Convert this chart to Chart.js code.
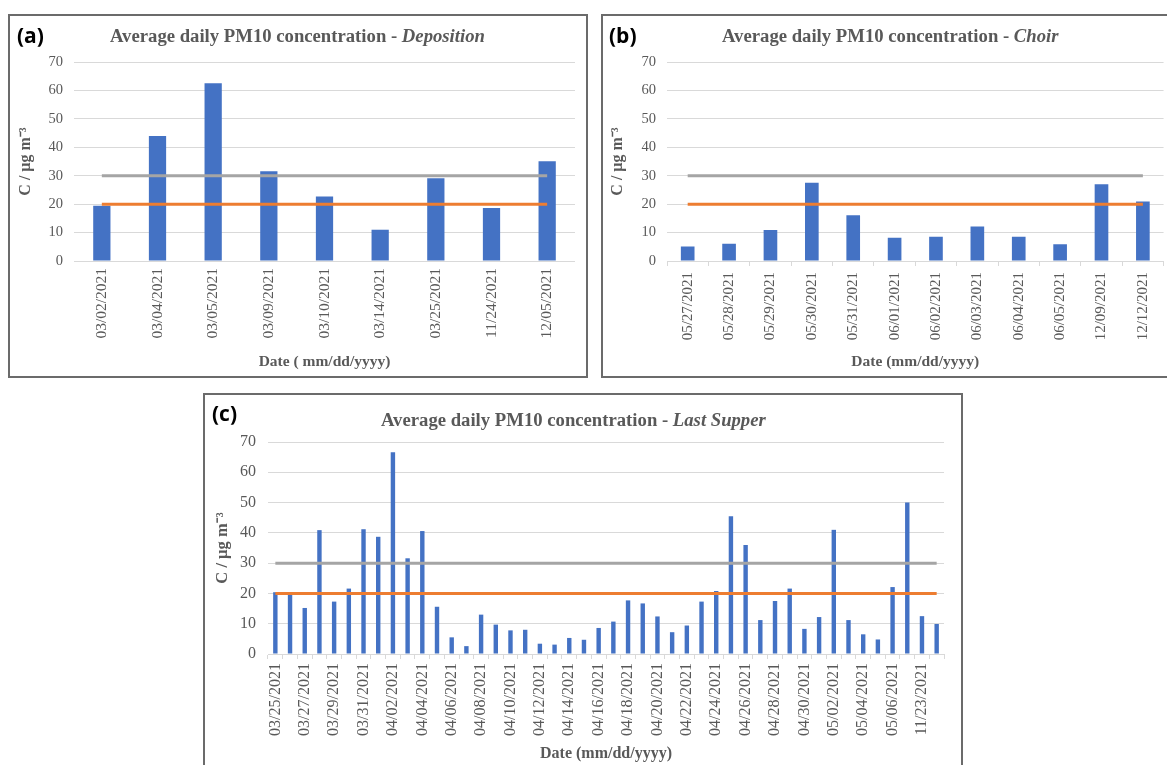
<!DOCTYPE html>
<html>
<head>
<meta charset="utf-8">
<script src="https://cdn.jsdelivr.net/npm/chart.js@4"></script>
<style>
  html, body { margin: 0; padding: 0; background: #ffffff; }
  body { width: 1167px; height: 765px; position: relative; overflow: hidden; }
  .panel { position: absolute; border: 2px solid #6b6b6b; box-sizing: border-box; background: #fff; }
  canvas { position: absolute; }
  .ttl { position: absolute; font-family: "Liberation Serif", serif; font-weight: bold; color: #595959; white-space: nowrap; line-height: 1; }
  .ttl i { font-style: italic; }
  .lbl { position: absolute; font-family: "Open Sans", sans-serif; font-weight: bold; color: #000; line-height: 1; white-space: nowrap; }
</style>
</head>
<body>
<div class="panel" style="left:8px;top:14px;width:580px;height:364px;"></div>
<div class="panel" style="left:601px;top:14px;width:580px;height:364px;"></div>
<div class="panel" style="left:203px;top:393px;width:760px;height:390px;"></div>

<canvas id="cA" width="575" height="359" style="left:10px;top:16px;width:575px;height:359px;"></canvas>
<canvas id="cB" width="564" height="359" style="left:603px;top:16px;width:564px;height:359px;"></canvas>
<canvas id="cC" width="755" height="370" style="left:205px;top:395px;width:755px;height:370px;"></canvas>

<div class="lbl" style="left:17px;top:25px;font-size:21px;">(a)</div>
<div class="lbl" style="left:609px;top:25px;font-size:21px;">(b)</div>
<div class="lbl" style="left:212px;top:403px;font-size:21px;">(c)</div>

<div class="ttl" style="left:110px;top:27px;font-size:18.7px;">Average daily PM10 concentration - <i>Deposition</i></div>
<div class="ttl" style="left:722px;top:27px;font-size:18.7px;">Average daily PM10 concentration - <i>Choir</i></div>
<div class="ttl" style="left:381px;top:411px;font-size:18.7px;">Average daily PM10 concentration - <i>Last Supper</i></div>

<script>
// ---------- data ----------
const depositionDates = ['03/02/2021','03/04/2021','03/05/2021','03/09/2021','03/10/2021','03/14/2021','03/25/2021','11/24/2021','12/05/2021'];
const depositionValues = [19.4, 44.0, 62.5, 31.6, 22.7, 11.0, 29.1, 18.6, 35.1];

const choirDates = ['05/27/2021','05/28/2021','05/29/2021','05/30/2021','05/31/2021','06/01/2021','06/02/2021','06/03/2021','06/04/2021','06/05/2021','12/09/2021','12/12/2021'];
const choirValues = [5.1, 6.1, 10.9, 27.5, 16.1, 8.2, 8.5, 12.1, 8.5, 5.9, 27.0, 20.9];

const supperDates = [
  '03/25/2021','03/26/2021','03/27/2021','03/28/2021','03/29/2021','03/30/2021','03/31/2021',
  '04/01/2021','04/02/2021','04/03/2021','04/04/2021','04/05/2021','04/06/2021','04/07/2021','04/08/2021',
  '04/09/2021','04/10/2021','04/11/2021','04/12/2021','04/13/2021','04/14/2021','04/15/2021','04/16/2021',
  '04/17/2021','04/18/2021','04/19/2021','04/20/2021','04/21/2021','04/22/2021','04/23/2021','04/24/2021',
  '04/25/2021','04/26/2021','04/27/2021','04/28/2021','04/29/2021','04/30/2021',
  '05/01/2021','05/02/2021','05/03/2021','05/04/2021','05/05/2021','05/06/2021','05/07/2021',
  '11/23/2021','11/24/2021'
];
const supperValues = [20.4, 19.6, 15.2, 40.9, 17.3, 21.6, 41.2, 38.7, 66.6, 31.6,
  40.6, 15.6, 5.5, 2.6, 13.0, 9.7, 7.8, 8.0, 3.4, 3.1,
  5.3, 4.7, 8.6, 10.7, 17.7, 16.7, 12.4, 7.2, 9.4, 17.3,
  20.8, 45.5, 36.0, 11.2, 17.5, 21.6, 8.3, 12.2, 41.0, 11.2,
  6.5, 4.8, 22.1, 50.0, 12.5, 9.9];

const limitHigh = 30;
const limitLow = 20;
const yTicks = [0, 10, 20, 30, 40, 50, 60, 70];

// ---------- styling ----------
const TXT = '#595959';
const GRID = '#d9d9d9';
const SERIF = '"Liberation Serif", serif';
Chart.defaults.font.family = SERIF;
Chart.defaults.color = TXT;

function makeChart(id, labels, values, o) {
  const ctx = document.getElementById(id);
  return new Chart(ctx, {
    data: {
      labels: labels,
      datasets: [
        { type: 'line', data: labels.map(() => limitHigh), borderColor: '#a5a5a5', borderWidth: 3,
          pointRadius: 0, fill: false, order: 0 },
        { type: 'line', data: labels.map(() => limitLow), borderColor: '#ed7d31', borderWidth: 3,
          pointRadius: 0, fill: false, order: 0 },
        { type: 'bar', data: values, backgroundColor: '#4472c4', borderWidth: 0,
          categoryPercentage: 1.0, barPercentage: o.barPct, order: 1 }
      ]
    },
    options: {
      responsive: false,
      animation: false,
      devicePixelRatio: 1,
      layout: { padding: { left: 0, top: o.padTop, right: o.padRight, bottom: 0 } },
      plugins: { legend: { display: false }, tooltip: { enabled: false }, title: { display: false } },
      scales: {
        x: {
          type: 'category',
          offset: true,
          afterFit: (s) => { s.height = o.xH; },
          grid: o.xTicks
            ? { display: true, drawOnChartArea: false, drawTicks: true, tickLength: 5, color: GRID, offset: true }
            : { display: false, drawTicks: false },
          border: o.xTicks ? { display: true, color: GRID, width: 1 } : { display: false },
          ticks: {
            autoSkip: false, minRotation: 90, maxRotation: 90, padding: o.xPad,
            color: TXT, font: { size: o.xTickSize },
            callback: function(v, i) { return (i % o.every === 0) ? this.getLabelForValue(v) : ''; }
          },
          title: { display: true, text: o.xTitle, color: TXT,
                   font: { size: o.axisTitleSize, weight: 'bold' }, padding: { top: 0, bottom: o.xTitlePad } }
        },
        y: {
          min: 0, max: 70,
          afterFit: (s) => { s.width = o.yW; },
          afterBuildTicks: (s) => { s.ticks = yTicks.map(v => ({ value: v })); },
          grid: { color: GRID, lineWidth: 1, drawTicks: false },
          border: { display: false },
          ticks: { padding: o.yPad, color: TXT, font: { size: o.tickSize } },
          title: { display: true, text: o.yTitle, color: TXT,
                   font: { size: o.axisTitleSize + 0.5, weight: 'bold', style: o.yItalic ? 'italic' : 'normal' },
                   padding: { top: o.yTitlePad, bottom: 0 } }
        }
      }
    }
  });
}

makeChart('cA', depositionDates, depositionValues, {
  barPct: 0.31, padTop: 46, padRight: 10, xH: 114, yW: 64, xTicks: false, xPad: 7,
  tickSize: 14.5, xTickSize: 15.5, axisTitleSize: 15.5, every: 1, xTitle: 'Date ( mm/dd/yyyy)', xTitlePad: 4,
  yTitle: 'C / µg m⁻³', yTitlePad: 6, yPad: 11, yItalic: false
});

makeChart('cB', choirDates, choirValues, {
  barPct: 0.33, padTop: 46, padRight: 3, xH: 114, yW: 64, xTicks: true, xPad: 6,
  tickSize: 14.5, xTickSize: 15, axisTitleSize: 15.5, every: 1, xTitle: 'Date (mm/dd/yyyy)', xTitlePad: 4,
  yTitle: 'C / µg m⁻³', yTitlePad: 5, yPad: 11, yItalic: false
});

makeChart('cC', supperDates, supperValues, {
  barPct: 0.30, padTop: 47, padRight: 12, xH: 111, yW: 63, xTicks: true, xPad: 4,
  tickSize: 16, xTickSize: 16, axisTitleSize: 16, every: 2, xTitle: 'Date (mm/dd/yyyy)', xTitlePad: 2,
  yTitle: 'C / µg m⁻³', yTitlePad: 8, yPad: 12, yItalic: false
});
</script>
</body>
</html>
